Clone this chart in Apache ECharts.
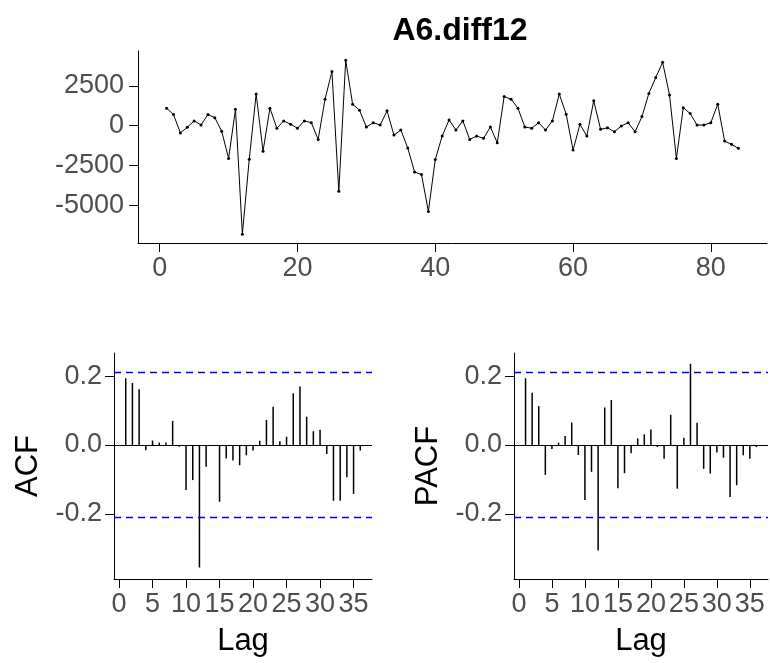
<!DOCTYPE html>
<html>
<head>
<meta charset="utf-8">
<script src="https://cdn.jsdelivr.net/npm/echarts@6/dist/echarts.min.js"></script>
<style>
  html, body { margin: 0; padding: 0; background: #fff; }
  #chart { width: 770px; height: 663px; }
</style>
</head>
<body>
<div id="chart"></div>
<script>
// series values, t = 1..84
const seriesVals = [
  1100, 700, -450, -100, 300, 50, 700, 500, -350, -2050,
  1030, -6800, -2100, 1980, -1600, 1100, -160, 300, 90, -160,
  300, 190, -860, 1660, 3400, -4110, 4100, 1350, 970, -80,
  190, 40, 930, -590, -270, -1390, -2900, -3060, -5370, -2120,
  -650, 360, -270, 300, -860, -650, -790, -80, -1070, 1830,
  1660, 1100, -80, -160, 190, -270, 300, 1980, 720, -1530,
  90, -650, 1560, -230, -130, -380, -20, 190, -380, 570,
  2020, 3020, 3970, 1930, -2050, 1130, 760, 40, 40, 190,
  1350, -960, -1170, -1420
]
// lags 1..36
const acfVals = [
  0.194, 0.180, 0.162, -0.015, 0.013, 0.007, 0.007, 0.070, -0.005, -0.131,
  -0.102, -0.356, -0.063, -0.002, -0.165, -0.039, -0.045, -0.059, -0.030, -0.016,
  0.012, 0.073, 0.111, 0.011, 0.024, 0.150, 0.170, 0.082, 0.040, 0.044,
  -0.026, -0.162, -0.162, -0.094, -0.142, -0.016
]
const pacfVals = [
  0.194, 0.152, 0.113, -0.087, -0.012, 0.007, 0.026, 0.065, -0.029, -0.160,
  -0.078, -0.307, 0.109, 0.131, -0.126, -0.082, -0.024, 0.019, 0.031, 0.045,
  -0.006, -0.040, 0.088, -0.127, 0.021, 0.236, 0.065, -0.069, -0.083, -0.022,
  -0.037, -0.151, -0.117, -0.030, -0.040, -0.006
]
const topXTicks = [0, 20, 40, 60, 80]
const topYTicks = [-5000, -2500, 0, 2500]
const lagTicks = [0, 5, 10, 15, 20, 25, 30, 35]
const corrTicks = [-0.2, 0, 0.2]
const ci = 1.96 / Math.sqrt(seriesVals.length)

const font = 'Liberation Sans, Arial, sans-serif'
const tickColor = '#4d4d4d'

function axisBase(ticks, fmt, margin) {
  return {
    type: 'value',
    axisLine: { show: true, onZero: false, lineStyle: { color: '#000', width: 1 } },
    axisTick: { show: true, length: 9, customValues: ticks, lineStyle: { color: '#000' } },
    axisLabel: {
      customValues: ticks, color: tickColor, fontSize: 27, fontFamily: font,
      formatter: fmt, margin: margin
    },
    splitLine: { show: false }
  }
}

function corrSeries(vals, idx) {
  return {
    type: 'bar',
    xAxisIndex: idx,
    yAxisIndex: idx,
    barWidth: 1.5,
    itemStyle: { color: '#000' },
    data: vals.map((v, i) => [i + 1, v]),
    markLine: {
      silent: true,
      symbol: 'none',
      label: { show: false },
      data: [
        { yAxis: 0, lineStyle: { color: '#000', type: 'solid', width: 1 } },
        { yAxis: ci, lineStyle: { color: '#0000ff', type: [7, 5], width: 1.3 } },
        { yAxis: -ci, lineStyle: { color: '#0000ff', type: [7, 5], width: 1.3 } }
      ]
    }
  }
}

const chart = echarts.init(document.getElementById('chart'))
const fmtInt = v => String(v)
const fmt1 = v => v.toFixed(1)
const nameStyle = { fontSize: 31, color: '#000', fontFamily: font }

const option = {
  animation: false,
  title: {
    text: 'A6.diff12',
    left: 455, top: 10, textAlign: 'center',
    textStyle: { fontSize: 32, fontWeight: 'bold', color: '#000', fontFamily: font }
  },
  grid: [
    { left: 138, right: 3, top: 51, bottom: 420 },
    { left: 114, right: 398, top: 353, bottom: 84 },
    { left: 514, right: 2, top: 353, bottom: 84 }
  ],
  xAxis: [
    Object.assign(axisBase(topXTicks, fmtInt, 12), { gridIndex: 0, min: -3.15, max: 88.15 }),
    Object.assign(axisBase(lagTicks, fmtInt, 12), {
      gridIndex: 1, min: -0.75, max: 37.75,
      name: 'Lag', nameLocation: 'middle', nameGap: 47, nameTextStyle: nameStyle
    }),
    Object.assign(axisBase(lagTicks, fmtInt, 12), {
      gridIndex: 2, min: -0.75, max: 37.75,
      name: 'Lag', nameLocation: 'middle', nameGap: 47, nameTextStyle: nameStyle
    })
  ],
  yAxis: [
    Object.assign(axisBase(topYTicks, fmtInt, 14), { gridIndex: 0, min: -7350, max: 4680 }),
    Object.assign(axisBase(corrTicks, fmt1, 12), {
      gridIndex: 1, min: -0.3895, max: 0.2674,
      name: 'ACF', nameLocation: 'middle', nameGap: 70, nameTextStyle: nameStyle
    }),
    Object.assign(axisBase(corrTicks, fmt1, 12), {
      gridIndex: 2, min: -0.3895, max: 0.2674,
      name: 'PACF', nameLocation: 'middle', nameGap: 70, nameTextStyle: nameStyle
    })
  ],
  series: [
    {
      type: 'line',
      xAxisIndex: 0,
      yAxisIndex: 0,
      data: seriesVals.map((v, i) => [i + 1, v]),
      symbol: 'circle',
      symbolSize: 3,
      itemStyle: { color: '#000' },
      lineStyle: { color: '#000', width: 1 }
    },
    corrSeries(acfVals, 1),
    corrSeries(pacfVals, 2)
  ]
}
chart.setOption(option)
</script>
</body>
</html>
